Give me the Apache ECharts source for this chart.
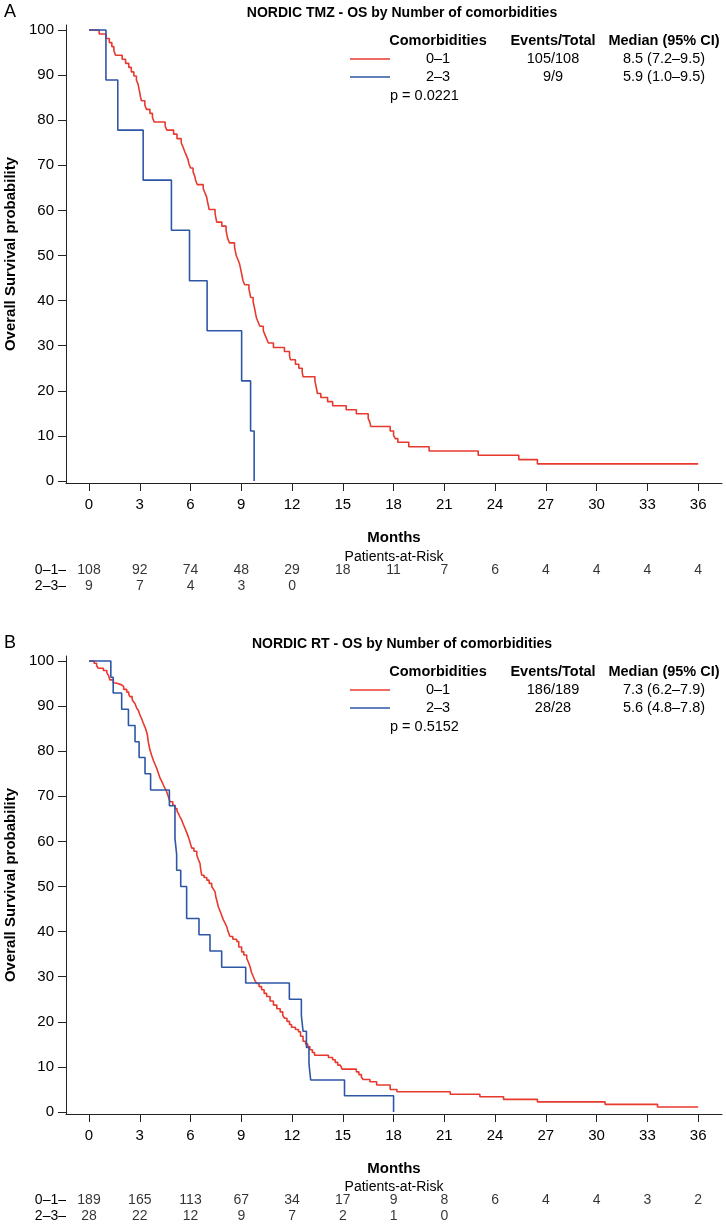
<!DOCTYPE html>
<html><head><meta charset="utf-8">
<script src="https://cdn.jsdelivr.net/npm/echarts@6/dist/echarts.min.js"></script>
<style>html,body{margin:0;padding:0;background:#fff}#c{width:726px;height:1225px}</style>
</head><body><div id="c"></div>
<script>
// ---------- tick labels ----------
const monthTicks = [0,3,6,9,12,15,18,21,24,27,30,33,36];
const survTicks = [0,10,20,30,40,50,60,70,80,90,100];
const groups = ['0–1','2–3'];
const riskRowLabels = ['0–1–','2–3–'];

// ---------- Panel A: NORDIC TMZ ----------
const tmzTitle = 'NORDIC TMZ - OS by Number of comorbidities';
const tmzEvents = ['105/108','9/9'];
const tmzMedians = ['8.5 (7.2–9.5)','5.9 (1.0–9.5)'];
const tmzP = 'p = 0.0221';
const tmzLowTime = [0,0.6,1.0,1.2,1.35,1.47,1.57,1.96,2.16,2.35,2.5,2.65,2.8,2.9,2.95,3.0,3.04,3.1,3.3,3.4,3.6,3.75,3.85,4.5,4.6,5.0,5.2,5.45,5.55,5.65,5.75,5.85,5.9,6.0,6.15,6.25,6.3,6.4,6.75,6.85,6.95,7.0,7.05,7.1,7.45,7.5,7.55,7.85,8.1,8.15,8.2,8.3,8.6,8.65,8.7,8.8,8.9,8.95,9.0,9.05,9.1,9.2,9.45,9.5,9.55,9.7,9.75,9.8,9.85,9.9,10.0,10.1,10.3,10.4,10.5,10.6,10.9,11.55,11.85,11.9,12.2,12.4,12.6,12.65,13.35,13.4,13.45,13.5,13.7,14.1,14.4,15.2,15.8,16.5,16.6,16.65,17.8,18.0,18.1,18.25,18.9,20.1,23.0,25.4,26.5,36];
const tmzLowSurv = [100,99.1,98.1,97.2,96.3,95.4,94.4,93.5,92.6,91.7,90.7,89.8,88.9,88.0,87.0,86.1,85.2,84.3,83.3,82.4,81.5,80.6,79.6,78.7,77.8,76.9,75.9,75.0,74.1,73.1,72.2,71.3,70.4,69.4,68.5,67.6,66.7,65.7,64.8,63.9,63.0,62.0,61.1,60.2,59.3,58.3,57.4,56.5,55.6,54.6,53.7,52.8,51.9,50.9,50.0,49.1,48.1,47.2,46.3,45.4,44.4,43.5,42.6,41.7,40.7,39.8,38.9,38.0,37.0,36.1,35.2,34.3,33.3,32.4,31.5,30.6,29.6,28.7,27.8,26.9,25.9,25.0,24.1,23.1,22.2,21.3,20.4,19.4,18.5,17.6,16.7,15.8,14.9,13.9,13.0,12.1,11.1,10.1,9.4,8.6,7.6,6.65,5.7,4.75,3.8,3.8];
const tmzHighTime = [0,1.0,1.7,3.2,4.87,5.94,6.98,9.02,9.55,9.76];
const tmzHighSurv = [100,88.9,77.8,66.7,55.6,44.4,33.3,22.2,11.1,0];
const tmzRiskLow = [108,92,74,48,29,18,11,7,6,4,4,4,4];
const tmzRiskHigh = [9,7,4,3,0];

// ---------- Panel B: NORDIC RT ----------
const rtTitle = 'NORDIC RT - OS by Number of comorbidities';
const rtEvents = ['186/189','28/28'];
const rtMedians = ['7.3 (6.2–7.9)','5.6 (4.8–7.8)'];
const rtP = 'p = 0.5152';
const rtLowTime = [0,0.3,0.45,0.55,0.85,1.05,1.15,1.24,1.44,1.6,1.93,2.05,2.23,2.35,2.42,2.55,2.62,2.72,2.82,2.92,3.01,3.1,3.21,3.3,3.37,3.45,3.5,3.55,3.6,3.7,3.8,3.9,4.0,4.1,4.2,4.3,4.39,4.5,4.59,4.7,4.79,4.95,5.08,5.2,5.28,5.38,5.48,5.57,5.67,5.77,5.87,5.97,6.07,6.2,6.37,6.45,6.56,6.6,6.66,6.8,6.96,7.1,7.25,7.35,7.45,7.5,7.58,7.64,7.75,7.85,7.94,8.05,8.14,8.22,8.33,8.5,8.73,8.85,9.02,9.15,9.32,9.42,9.52,9.6,9.71,9.8,9.91,10.05,10.2,10.35,10.5,10.7,10.9,11.1,11.3,11.45,11.56,11.7,11.85,11.97,12.2,12.38,12.5,12.65,12.8,12.92,13.05,13.2,13.33,14.15,14.4,14.55,14.7,14.85,14.96,15.8,15.95,16.1,16.2,16.6,17.0,17.8,18.2,21.35,23.1,24.5,26.5,30.5,33.6,36];
const rtLowSurv = [100,99.5,98.9,98.4,97.9,97.4,96.8,95.8,95.1,94.7,94.3,93.7,93.1,92.6,92.1,91.5,91.0,90.5,89.5,89.0,88.0,87.3,86.2,85.4,84.7,83.6,82.1,81.2,80.3,79.1,78.0,77.1,76.2,75.1,74.0,73.3,72.5,71.7,71.0,69.8,68.8,68.0,67.3,66.7,66.2,65.4,64.7,63.8,62.9,62.0,61.0,59.8,58.5,57.8,57.0,56.1,55.1,53.8,52.5,52.0,51.4,50.7,50.0,49.4,48.8,47.6,46.5,45.5,44.5,43.5,42.6,41.8,41.1,40.0,38.9,38.3,37.8,36.6,35.5,34.8,34.1,33.2,32.2,31.0,30.0,29.2,28.5,27.8,27.1,26.3,25.6,24.6,23.7,22.9,22.2,21.4,20.8,20.1,19.4,18.8,18.3,17.8,16.8,15.7,15.1,14.5,13.8,13.2,12.6,12.1,11.6,11.0,10.4,10.0,9.5,8.9,8.3,7.7,7.2,6.7,6.0,5.0,4.5,3.95,3.4,2.8,2.25,1.7,1.1,1.1];
const rtHighTime = [0,1.29,1.43,1.93,2.33,2.72,2.96,3.31,3.64,4.75,5.08,5.08,5.18,5.18,5.42,5.77,5.77,6.5,7.15,7.84,9.26,11.84,12.55,12.65,12.85,13.0,13.1,15.1,18.0];
const rtHighSurv = [100,96.4,92.9,89.3,85.7,82.1,78.6,75.0,71.4,67.9,64.3,60.7,57.1,53.6,50.0,46.4,42.9,39.3,35.7,32.1,28.6,25.0,21.4,17.9,14.3,10.7,7.1,3.6,0];
const rtRiskLow = [189,165,113,67,34,17,9,8,6,4,4,3,2];
const rtRiskHigh = [28,22,12,9,7,2,1,0];

// ---------- styling / layout ----------
const RED = '#e8392f', BLUE = '#2e56a6', AX = '#222';
const FONT = 'Liberation Sans, Arial, sans-serif';
const X_MIN = -1.36, X_MAX = 37.41, Y_MIN = -0.44, Y_MAX = 101.1;
const PLOT_LEFT = 66, PLOT_W = 656, PLOT_H = 458;
const panels = [
  {top: 25, riskTop: 562, label: 'A', title: tmzTitle, events: tmzEvents, medians: tmzMedians, p: tmzP,
   low: [tmzLowTime, tmzLowSurv], high: [tmzHighTime, tmzHighSurv], riskLow: tmzRiskLow, riskHigh: tmzRiskHigh},
  {top: 656, riskTop: 1192, label: 'B', title: rtTitle, events: rtEvents, medians: rtMedians, p: rtP,
   low: [rtLowTime, rtLowSurv], high: [rtHighTime, rtHighSurv], riskLow: rtRiskLow, riskHigh: rtRiskHigh}
];

const zip = (a, b) => a.map((v, i) => [v, b[i]]);
const grid = [], xAxis = [], yAxis = [], series = [], graphic = [];

panels.forEach((p, k) => {
  const gPlot = grid.length;
  grid.push({left: PLOT_LEFT, top: p.top, width: PLOT_W, height: PLOT_H, containLabel: false, outerBoundsMode: 'none'});
  const gRisk = grid.length;
  grid.push({left: PLOT_LEFT, top: p.riskTop, width: PLOT_W, height: 32, containLabel: false, outerBoundsMode: 'none'});

  xAxis.push({gridIndex: gPlot, type: 'value', min: X_MIN, max: X_MAX,
    name: 'Months', nameLocation: 'middle', nameGap: 47,
    nameTextStyle: {fontFamily: FONT, fontWeight: 'bold', fontSize: 15, color: '#000'},
    axisLine: {show: true, onZero: false, lineStyle: {color: AX, width: 1}},
    axisTick: {show: true, length: 8, customValues: monthTicks, lineStyle: {color: AX}},
    axisLabel: {customValues: monthTicks, fontFamily: FONT, fontSize: 15, color: '#000', margin: 14},
    splitLine: {show: false}});
  xAxis.push({gridIndex: gRisk, type: 'value', min: X_MIN, max: X_MAX, show: false});

  yAxis.push({gridIndex: gPlot, type: 'value', min: Y_MIN, max: Y_MAX,
    name: 'Overall Survival probability', nameLocation: 'middle', nameGap: 46,
    nameTextStyle: {fontFamily: FONT, fontWeight: 'bold', fontSize: 15, color: '#000'},
    axisLine: {show: true, onZero: false, lineStyle: {color: AX, width: 1}},
    axisTick: {show: true, length: 8, customValues: survTicks, lineStyle: {color: AX}},
    axisLabel: {customValues: survTicks, fontFamily: FONT, fontSize: 15, color: '#000', margin: 12},
    splitLine: {show: false}});
  yAxis.push({gridIndex: gRisk, type: 'category', data: riskRowLabels, inverse: true,
    axisLine: {show: false}, axisTick: {show: false},
    axisLabel: {interval: 0, fontFamily: FONT, fontSize: 14, color: '#000', margin: 0}});

  const xi = xAxis.length - 2, yi = yAxis.length - 2;
  series.push({type: 'line', xAxisIndex: xi, yAxisIndex: yi, step: 'end', showSymbol: false,
    lineStyle: {color: RED, width: 1.6}, data: zip(p.low[0], p.low[1]), z: 3});
  series.push({type: 'line', xAxisIndex: xi, yAxisIndex: yi, step: 'end', showSymbol: false,
    lineStyle: {color: BLUE, width: 1.6}, data: zip(p.high[0], p.high[1]), z: 4});

  const riskData = [];
  p.riskLow.forEach((v, i) => riskData.push([monthTicks[i], 0, v]));
  p.riskHigh.forEach((v, i) => riskData.push([monthTicks[i], 1, v]));
  series.push({type: 'scatter', xAxisIndex: xi + 1, yAxisIndex: yi + 1, symbolSize: 0, silent: true,
    data: riskData,
    label: {show: true, position: 'inside', formatter: d => String(d.value[2]),
      fontFamily: FONT, fontSize: 14, color: '#000'}});

  const off = p.top - 25;
  graphic.push({type: 'text', left: 4, top: 3 + off, style: {text: p.label, font: '18px ' + FONT, fill: '#000'}});
  graphic.push({type: 'text', x: 402, y: 13 + off, style: {text: p.title, font: 'bold 14px ' + FONT, fill: '#000', align: 'center', verticalAlign: 'middle'}});
  graphic.push({type: 'text', x: 394, y: 557 + (p.riskTop - 562), style: {text: 'Patients-at-Risk', font: '14px ' + FONT, fill: '#000', align: 'center', verticalAlign: 'middle'}});
  // legend table
  const hy = 41 + off;
  const cols = [438, 553, 664];
  ['Comorbidities', 'Events/Total', 'Median (95% CI)'].forEach((t, i) =>
    graphic.push({type: 'text', x: cols[i], y: hy, style: {text: t, font: 'bold 14.5px ' + FONT, fill: '#000', align: 'center', verticalAlign: 'middle'}}));
  [RED, BLUE].forEach((c, r) => {
    const ry = hy + 18 + r * 18;
    graphic.push({type: 'line', shape: {x1: 350, y1: ry, x2: 390, y2: ry}, style: {stroke: c, lineWidth: 1.7}});
    [groups[r], p.events[r], p.medians[r]].forEach((t, i) =>
      graphic.push({type: 'text', x: cols[i], y: ry, style: {text: t, font: '14.5px ' + FONT, fill: '#000', align: 'center', verticalAlign: 'middle'}}));
  });
  graphic.push({type: 'text', x: 390, y: hy + 55, style: {text: p.p, font: '14.5px ' + FONT, fill: '#000', align: 'left', verticalAlign: 'middle'}});
});

const chart = echarts.init(document.getElementById('c'), null, {renderer: 'canvas'});
chart.setOption({animation: false, backgroundColor: '#fff', grid, xAxis, yAxis, series, graphic});
</script></body></html>
